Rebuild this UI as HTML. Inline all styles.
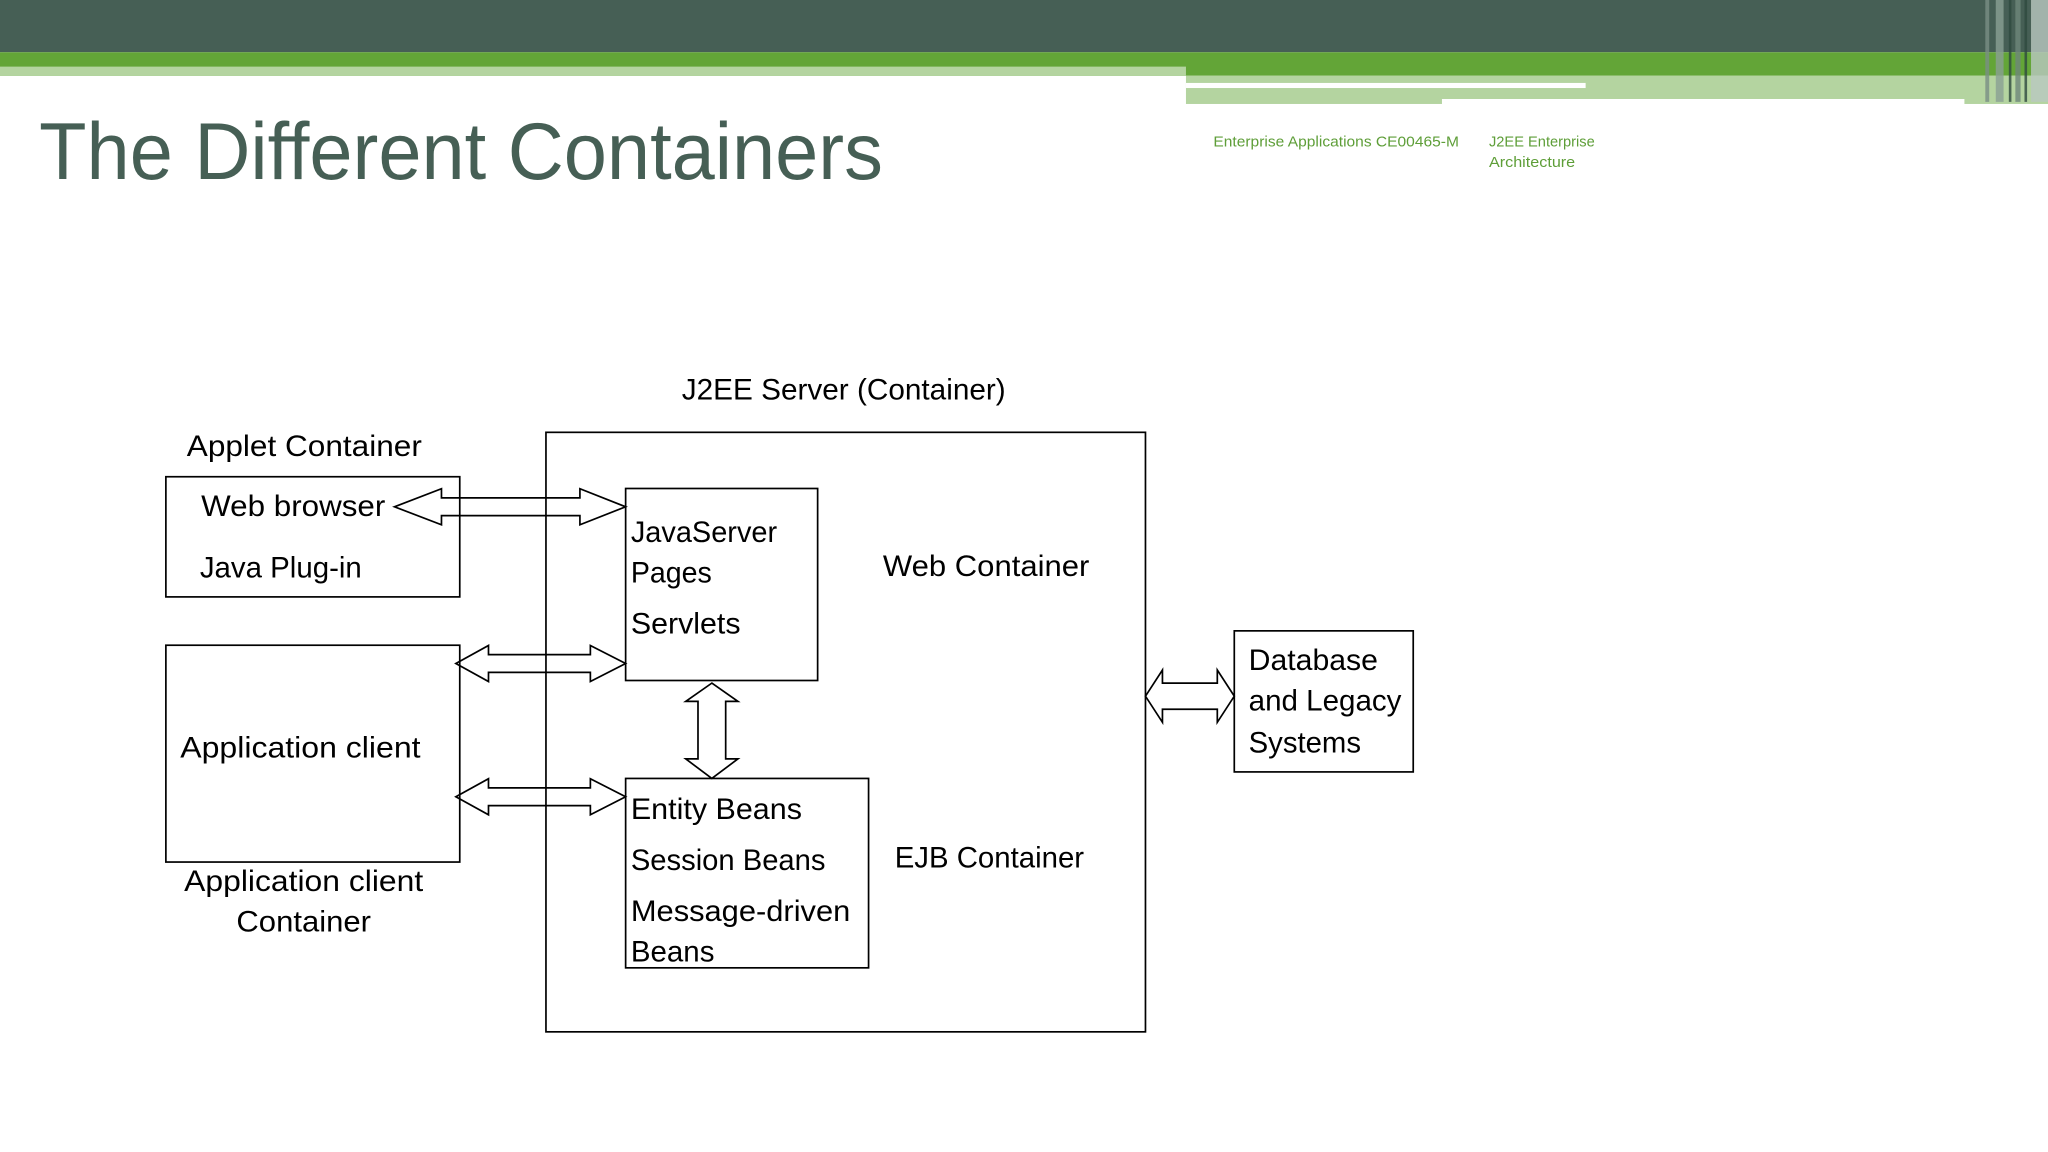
<!DOCTYPE html>
<html><head><meta charset="utf-8"><style>
html,body{margin:0;padding:0;background:#fff;}
svg{display:block;}
text{font-family:"Liberation Sans",sans-serif;fill:#000;}
</style></head><body>
<svg width="2048" height="1152" viewBox="0 0 1568 882" xmlns="http://www.w3.org/2000/svg">
<rect x="0" y="0" width="1568" height="882" fill="#fff"/>
<!-- header -->
<rect x="0" y="0" width="1568" height="40" fill="#465f55"/>
<rect x="0" y="40" width="1568" height="18" fill="#63a537"/>
<rect x="0" y="51" width="908" height="7" fill="#b4d4a0"/>
<rect x="908" y="58" width="660" height="21.6" fill="#b4d4a0"/>
<rect x="908" y="63.5" width="306" height="3.9" fill="#fff"/>
<rect x="1104" y="75.8" width="400" height="10" fill="#fff"/>
<g opacity="0.8">
<rect x="1520" y="0" width="3" height="78" fill="#7a8f85"/>
<rect x="1528" y="0" width="6" height="78" fill="#8aa094"/>
<rect x="1538" y="0" width="2" height="78" fill="#2f4a3f"/>
<rect x="1543" y="0" width="4" height="78" fill="#6f877b"/>
<rect x="1550" y="0" width="2" height="78" fill="#2f4a3f"/>
<rect x="1555" y="0" width="13" height="78" fill="#b9c8c0"/>
</g>
<text x="30" y="137" font-size="62" style="fill:#465f55" textLength="646" lengthAdjust="spacingAndGlyphs">The Different Containers</text>
<text x="929" y="112" font-size="11.5" style="fill:#5e9e38" textLength="188" lengthAdjust="spacingAndGlyphs">Enterprise Applications CE00465-M</text>
<text x="1140" y="112" font-size="11.5" style="fill:#5e9e38" textLength="81" lengthAdjust="spacingAndGlyphs">J2EE Enterprise</text>
<text x="1140" y="128" font-size="11.5" style="fill:#5e9e38" textLength="66" lengthAdjust="spacingAndGlyphs">Architecture</text>
<!-- boxes -->
<g fill="none" stroke="#000" stroke-width="1.3">
<rect x="418" y="331" width="459" height="459"/>
<rect x="127" y="365" width="225" height="92"/>
<rect x="479" y="374" width="147" height="147"/>
<rect x="127" y="494" width="225" height="166"/>
<rect x="479" y="596" width="186" height="145"/>
<rect x="945" y="483" width="137" height="108"/>
</g>
<!-- arrows -->
<g fill="none" stroke="#000" stroke-width="1.3" stroke-linejoin="miter">
<path d="M302,388 L338,374.2 L338,381.2 L444,381.2 L444,374.2 L479,388 L444,401.8 L444,394.8 L338,394.8 L338,401.8 Z"/>
<path d="M349,508 L374,494.2 L374,501.2 L452,501.2 L452,494.2 L479,508 L452,521.8 L452,514.8 L374,514.8 L374,521.8 Z"/>
<path d="M349,610 L374,596.2 L374,603.2 L452,603.2 L452,596.2 L479,610 L452,623.8 L452,616.8 L374,616.8 L374,623.8 Z"/>
<path d="M545,523 L565,537 L555.6,537 L555.6,581 L565,581 L545,596 L525,581 L534.4,581 L534.4,537 L525,537 Z"/>
<path d="M877,533 L890,513 L890,523 L932,523 L932,513 L945,533 L932,553 L932,543 L890,543 L890,553 Z"/>
</g>
<!-- labels -->
<g font-size="22.5">
<text x="522" y="306" textLength="248" lengthAdjust="spacingAndGlyphs">J2EE Server (Container)</text>
<text x="143" y="349" textLength="180" lengthAdjust="spacingAndGlyphs">Applet Container</text>
<text x="154" y="395" textLength="141" lengthAdjust="spacingAndGlyphs">Web browser</text>
<text x="153" y="442" textLength="124" lengthAdjust="spacingAndGlyphs">Java Plug-in</text>
<text x="483" y="415" textLength="112" lengthAdjust="spacingAndGlyphs">JavaServer</text>
<text x="483" y="446" textLength="62" lengthAdjust="spacingAndGlyphs">Pages</text>
<text x="483" y="485" textLength="84" lengthAdjust="spacingAndGlyphs">Servlets</text>
<text x="676" y="441" textLength="158" lengthAdjust="spacingAndGlyphs">Web Container</text>
<text x="138" y="580" textLength="184" lengthAdjust="spacingAndGlyphs">Application client</text>
<text x="141" y="682" textLength="183" lengthAdjust="spacingAndGlyphs">Application client</text>
<text x="181" y="713" textLength="103" lengthAdjust="spacingAndGlyphs">Container</text>
<text x="483" y="627" textLength="131" lengthAdjust="spacingAndGlyphs">Entity Beans</text>
<text x="483" y="666" textLength="149" lengthAdjust="spacingAndGlyphs">Session Beans</text>
<text x="483" y="705" textLength="168" lengthAdjust="spacingAndGlyphs">Message-driven</text>
<text x="483" y="736" textLength="64" lengthAdjust="spacingAndGlyphs">Beans</text>
<text x="685" y="664" textLength="145" lengthAdjust="spacingAndGlyphs">EJB Container</text>
<text x="956" y="513" textLength="99" lengthAdjust="spacingAndGlyphs">Database</text>
<text x="956" y="544" textLength="117" lengthAdjust="spacingAndGlyphs">and Legacy</text>
<text x="956" y="576" textLength="86" lengthAdjust="spacingAndGlyphs">Systems</text>
</g>
</svg>
</body></html>
